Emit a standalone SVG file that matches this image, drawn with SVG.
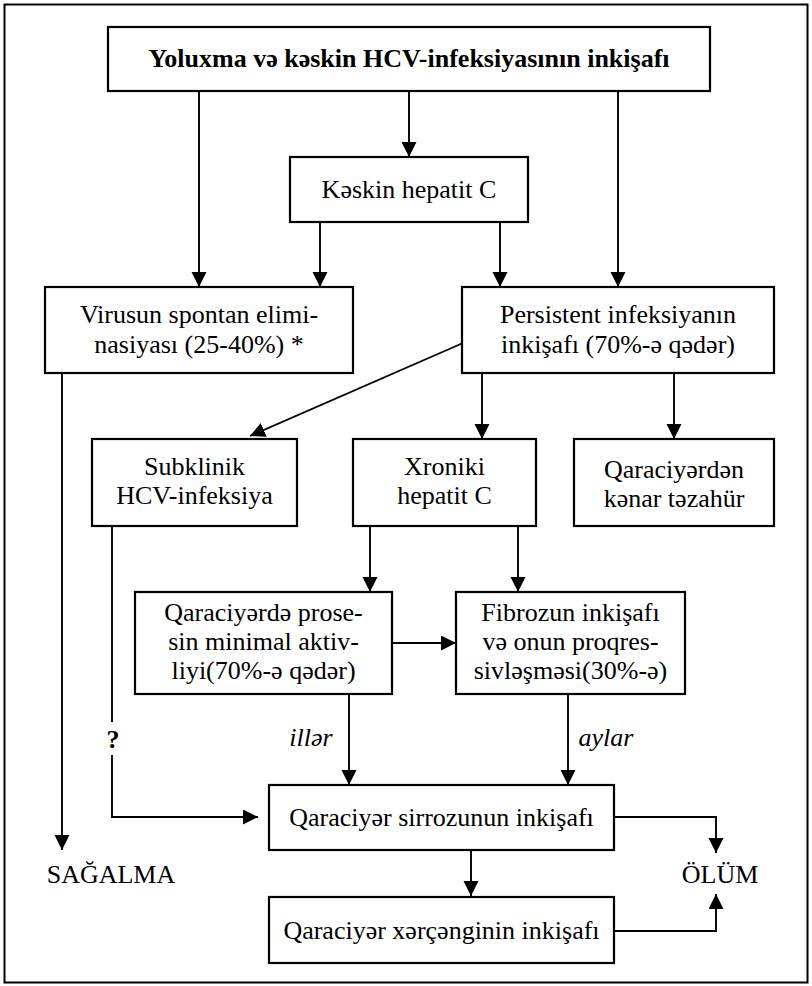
<svg xmlns="http://www.w3.org/2000/svg" width="812" height="986" viewBox="0 0 812 986">
<defs>
<marker id="ah" markerUnits="userSpaceOnUse" markerWidth="16" markerHeight="16" refX="15" refY="7.5" orient="auto">
<path d="M0,0 L15,7.5 L0,15 z" fill="#000"/>
</marker>
</defs>
<style>
.box{fill:#fff;stroke:#000;stroke-width:2.2}
.t{font-family:"Liberation Serif","Times New Roman",serif;font-size:26px;fill:#000;text-anchor:middle}
.b{font-weight:bold}
.i{font-style:italic}
.c{fill:none;stroke:#000;stroke-width:1.9}
</style>
<rect x="0" y="0" width="812" height="986" fill="#fff"/>
<rect x="4.5" y="4.5" width="803" height="978" fill="none" stroke="#000" stroke-width="2"/>
<g id="connectors">
<line class="c" x1="199" y1="91" x2="199" y2="287" marker-end="url(#ah)"/>
<line class="c" x1="409" y1="91" x2="409" y2="157" marker-end="url(#ah)"/>
<line class="c" x1="618" y1="91" x2="618" y2="287" marker-end="url(#ah)"/>
<line class="c" x1="320" y1="222" x2="320" y2="287" marker-end="url(#ah)"/>
<line class="c" x1="500" y1="222" x2="500" y2="287" marker-end="url(#ah)"/>
<line class="c" x1="62" y1="373" x2="62" y2="850" marker-end="url(#ah)"/>
<line class="c" x1="463" y1="343" x2="250" y2="436" marker-end="url(#ah)"/>
<line class="c" x1="482" y1="373" x2="482" y2="439" marker-end="url(#ah)"/>
<line class="c" x1="674" y1="373" x2="674" y2="439" marker-end="url(#ah)"/>
<line class="c" x1="112" y1="526" x2="112" y2="722"/>
<polyline class="c" points="112,755 112,817 258,817" marker-end="url(#ah)"/>
<line class="c" x1="370" y1="526" x2="370" y2="592" marker-end="url(#ah)"/>
<line class="c" x1="518" y1="526" x2="518" y2="592" marker-end="url(#ah)"/>
<line class="c" x1="393" y1="643" x2="456" y2="643" stroke-width="2.6" marker-end="url(#ah)"/>
<line class="c" x1="349" y1="694" x2="349" y2="785" marker-end="url(#ah)"/>
<line class="c" x1="568" y1="694" x2="568" y2="785" marker-end="url(#ah)"/>
<line class="c" x1="471" y1="850" x2="471" y2="896" marker-end="url(#ah)"/>
<polyline class="c" points="614,817 716,817 716,853" marker-end="url(#ah)"/>
<polyline class="c" points="614,931 716,931 716,894" marker-end="url(#ah)"/>
<text class="t b" x="113" y="748">?</text>
<text class="t i" x="311" y="746">illər</text>
<text class="t i" x="606" y="746">aylar</text>
</g>
<g id="n-top">
<rect class="box" x="108" y="27" width="602" height="64"/>
<text class="t b" x="409" y="67" font-size="26.5">Yoluxma və kəskin HCV-infeksiyasının inkişafı</text>
</g>
<g id="n-keskin">
<rect class="box" x="290" y="157" width="238" height="65"/>
<text class="t" x="409" y="198">Kəskin hepatit C</text>
</g>
<g id="n-virusun">
<rect class="box" x="45" y="287" width="308" height="86"/>
<text class="t" x="199" y="323">Virusun spontan elimi-</text>
<text class="t" x="199" y="353">nasiyası (25-40%) *</text>
</g>
<g id="n-persistent">
<rect class="box" x="462" y="287" width="312" height="86"/>
<text class="t" x="618" y="323">Persistent infeksiyanın</text>
<text class="t" x="618" y="353">inkişafı (70%-ə qədər)</text>
</g>
<g id="n-subklinik">
<rect class="box" x="92" y="439" width="205" height="87"/>
<text class="t" x="194.5" y="475">Subklinik</text>
<text class="t" x="194.5" y="504">HCV-infeksiya</text>
</g>
<g id="n-xroniki">
<rect class="box" x="353" y="439" width="183" height="87"/>
<text class="t" x="444.5" y="475">Xroniki</text>
<text class="t" x="444.5" y="504">hepatit C</text>
</g>
<g id="n-kenar">
<rect class="box" x="574" y="439" width="200" height="87"/>
<text class="t" x="674" y="478">Qaraciyərdən</text>
<text class="t" x="674" y="507">kənar təzahür</text>
</g>
<g id="n-minimal">
<rect class="box" x="135" y="592" width="257" height="102"/>
<text class="t" x="263.5" y="621">Qaraciyərdə prose-</text>
<text class="t" x="263.5" y="650">sin minimal aktiv-</text>
<text class="t" x="263.5" y="679">liyi(70%-ə qədər)</text>
</g>
<g id="n-fibroz">
<rect class="box" x="456" y="592" width="229" height="102"/>
<text class="t" x="570.5" y="621">Fibrozun inkişafı</text>
<text class="t" x="570.5" y="650">və onun proqres-</text>
<text class="t" x="570.5" y="679">sivləşməsi(30%-ə)</text>
</g>
<g id="n-sirroz">
<rect class="box" x="269" y="785" width="345" height="65"/>
<text class="t" x="441.5" y="826">Qaraciyər sirrozunun inkişafı</text>
</g>
<g id="n-xercenk">
<rect class="box" x="269" y="897" width="345" height="66"/>
<text class="t" x="441.5" y="939">Qaraciyər xərçənginin inkişafı</text>
</g>
<g id="n-sagalma">
<text class="t" x="111" y="883">SAĞALMA</text>
</g>
<g id="n-olum">
<text class="t" x="720" y="883">ÖLÜM</text>
</g>
</svg>
